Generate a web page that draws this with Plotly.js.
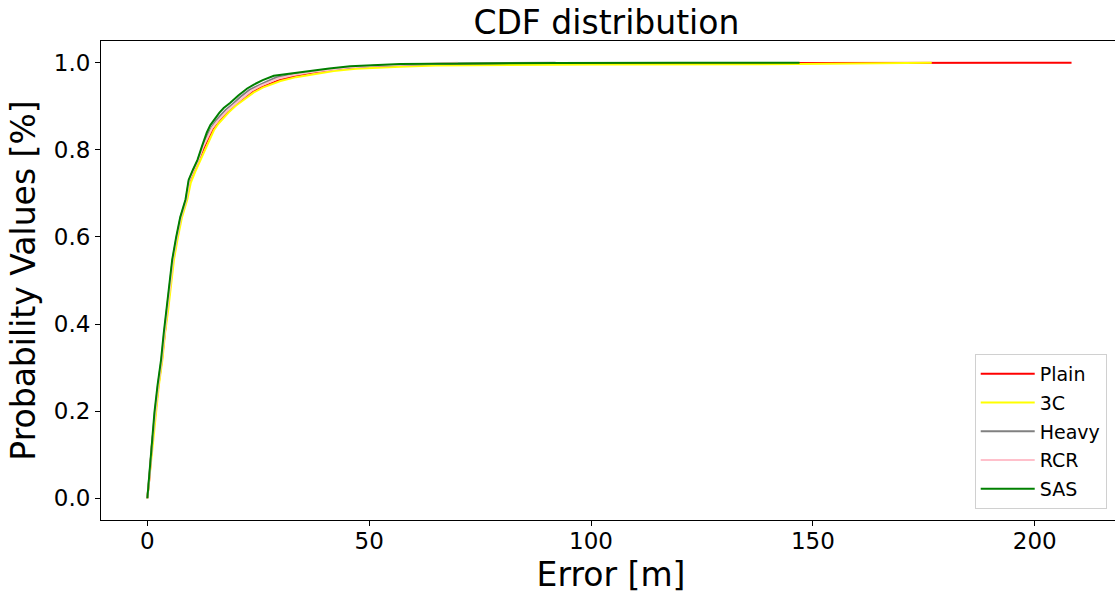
<!DOCTYPE html>
<html>
<head>
<meta charset="utf-8">
<script src="https://cdn.plot.ly/plotly-3.0.1.min.js"></script>
<style>
html, body { margin: 0; padding: 0; overflow: hidden; background: #fff; width: 1115px; height: 594px; }
#chart { width: 1140px; height: 594px; }
</style>
</head>
<body>
<div id="chart"></div>
<script>
// Series names and colours
const seriesNames = ["Plain", "3C", "Heavy", "RCR", "SAS"];
const seriesColors = ["#ff0000", "#ffff00", "#808080", "#ffc0cb", "#008000"];

// Plain (red)
const plainX = [0, 0.5, 1.0, 1.8, 2.5, 3.3, 3.9, 4.5, 5.2, 5.8, 6.7, 7.6, 8.8, 9.6, 10.6, 11.6, 12.7, 13.9, 14.9, 16.0, 17.2, 18.5, 20.0, 22.0, 24.0, 26.0, 28.0, 30.0, 33.0, 37.0, 41.0, 46.0, 50.0, 57.0, 65.0, 80.0, 100.0, 150.0, 208.3];
const plainY = [0.0, 0.05, 0.12, 0.197, 0.26, 0.319, 0.38, 0.433, 0.49, 0.548, 0.60, 0.645, 0.686, 0.731, 0.755, 0.777, 0.805, 0.83, 0.848, 0.862, 0.877, 0.89, 0.905, 0.92, 0.935, 0.945, 0.953, 0.961, 0.969, 0.977, 0.983, 0.989, 0.992, 0.995, 0.997, 0.998, 0.999, 0.9995, 1.0];

// 3C (yellow)
const c3X = [0, 0.5, 1.1, 1.9, 2.6, 3.4, 4.0, 4.7, 5.4, 6.0, 6.9, 7.8, 9.0, 9.8, 10.8, 11.8, 12.9, 14.1, 15.0, 16.0, 17.2, 18.4, 20.0, 22.0, 24.0, 26.0, 28.0, 30.0, 33.5, 38.0, 42.0, 47.0, 52.0, 57.0, 65.0, 80.0, 100.0, 147.0, 176.8];
const c3Y = [0.0, 0.05, 0.12, 0.197, 0.26, 0.319, 0.38, 0.433, 0.49, 0.548, 0.60, 0.645, 0.686, 0.725, 0.75, 0.772, 0.80, 0.826, 0.845, 0.86, 0.874, 0.887, 0.902, 0.918, 0.932, 0.943, 0.951, 0.958, 0.967, 0.975, 0.981, 0.986, 0.989, 0.991, 0.994, 0.995, 0.996, 0.997, 1.0];

// Heavy (gray)
const heavyX = [0, 0.45, 0.95, 1.7, 2.4, 3.2, 3.8, 4.4, 5.1, 5.7, 6.6, 7.5, 8.7, 9.4, 10.4, 11.4, 12.4, 13.6, 14.5, 15.5, 16.6, 17.7, 19.2, 21.0, 23.0, 25.0, 27.0, 29.0, 33.0, 37.0, 42.0, 46.0, 51.0, 58.0, 66.0, 78.0, 92.0];
const heavyY = [0.0, 0.05, 0.12, 0.197, 0.26, 0.319, 0.38, 0.433, 0.49, 0.548, 0.60, 0.645, 0.686, 0.731, 0.755, 0.777, 0.806, 0.835, 0.852, 0.867, 0.88, 0.892, 0.905, 0.922, 0.938, 0.948, 0.957, 0.966, 0.973, 0.98, 0.986, 0.99, 0.993, 0.996, 0.998, 0.999, 1.0];

// RCR (pink)
const rcrX = [0, 0.5, 1.0, 1.75, 2.45, 3.25, 3.85, 4.45, 5.15, 5.75, 6.65, 7.55, 8.75, 9.5, 10.5, 11.5, 12.5, 13.7, 14.6, 15.7, 16.8, 18.0, 19.5, 21.5, 23.5, 25.5, 27.5, 29.5, 33.0, 37.0, 42.0, 46.0, 52.0, 60.0, 70.0];
const rcrY = [0.0, 0.05, 0.12, 0.197, 0.26, 0.319, 0.38, 0.433, 0.49, 0.548, 0.60, 0.645, 0.686, 0.731, 0.755, 0.777, 0.805, 0.833, 0.85, 0.865, 0.878, 0.89, 0.903, 0.92, 0.936, 0.947, 0.956, 0.964, 0.972, 0.979, 0.985, 0.99, 0.994, 0.997, 1.0];

// SAS (green)
const sasX = [0, 0.4, 0.9, 1.6, 2.3, 3.1, 3.7, 4.3, 5.0, 5.6, 6.5, 7.4, 8.6, 9.3, 10.3, 11.3, 12.3, 13.4, 14.2, 15.2, 16.2, 17.2, 18.7, 20.5, 22.5, 24.0, 26.0, 28.5, 32.0, 36.7, 41.0, 45.7, 50.0, 57.0, 65.0, 78.0, 92.0, 120.0, 147.0];
const sasY = [0.0, 0.05, 0.12, 0.197, 0.26, 0.319, 0.38, 0.433, 0.49, 0.548, 0.60, 0.645, 0.686, 0.731, 0.755, 0.777, 0.808, 0.84, 0.857, 0.872, 0.885, 0.896, 0.908, 0.925, 0.941, 0.95, 0.96, 0.970, 0.975, 0.982, 0.987, 0.992, 0.994, 0.997, 0.998, 0.999, 0.9995, 0.9998, 1.0];

const xs = [plainX, c3X, heavyX, rcrX, sasX];
const ys = [plainY, c3Y, heavyY, rcrY, sasY];

const xTicks = [0, 50, 100, 150, 200];
const yTicks = [0.0, 0.2, 0.4, 0.6, 0.8, 1.0];

const FONT = "DejaVu Sans, sans-serif";

const traces = seriesNames.map((name, i) => ({
  x: xs[i], y: ys[i], type: "scatter", mode: "lines", name: name,
  legendgroup: name,
  line: { color: seriesColors[i], width: 2 }
}));

const layout = {
  width: 1140, height: 594,
  margin: { l: 101, r: 19, t: 41, b: 74 },
  paper_bgcolor: "#fff", plot_bgcolor: "#fff",
  font: { family: FONT, color: "#000" },
  title: { text: "CDF distribution", font: { family: FONT, size: 33, color: "#000" },
           xref: "paper", x: 0.4955, xanchor: "center", yref: "container", y: 0.962, yanchor: "middle" },
  xaxis: {
    range: [-10.45, 219.45], tickvals: xTicks, ticktext: xTicks.map(String),
    showgrid: false, zeroline: false, showline: true, mirror: true,
    linecolor: "#000", linewidth: 1, ticks: "outside", ticklen: 5, tickcolor: "#000",
    ticklabelstandoff: -5,
    tickfont: { family: FONT, size: 23, color: "#000" },
    title: { text: "Error [m]", font: { family: FONT, size: 33, color: "#000" }, standoff: 14 }
  },
  yaxis: {
    range: [-0.05, 1.05], tickvals: yTicks, ticktext: yTicks.map(v => v.toFixed(1)),
    showgrid: false, zeroline: false, showline: true, mirror: false,
    linecolor: "#000", linewidth: 1, ticks: "outside", ticklen: 5, tickcolor: "#000",
    tickfont: { family: FONT, size: 23, color: "#000" },
    title: { text: "Probability Values [%]", font: { family: FONT, size: 33, color: "#000" }, standoff: 8 }
  },
  legend: {
    x: 0.986, xanchor: "right", y: 0.023, yanchor: "bottom",
    bgcolor: "#fff", bordercolor: "#d0d0d0", borderwidth: 1,
    font: { family: FONT, size: 19, color: "#000" },
    traceorder: "grouped", tracegroupgap: 1, itemwidth: 54
  },
  showlegend: true
};

Plotly.newPlot("chart", traces, layout, { displayModeBar: false, staticPlot: true });
</script>
</body>
</html>
